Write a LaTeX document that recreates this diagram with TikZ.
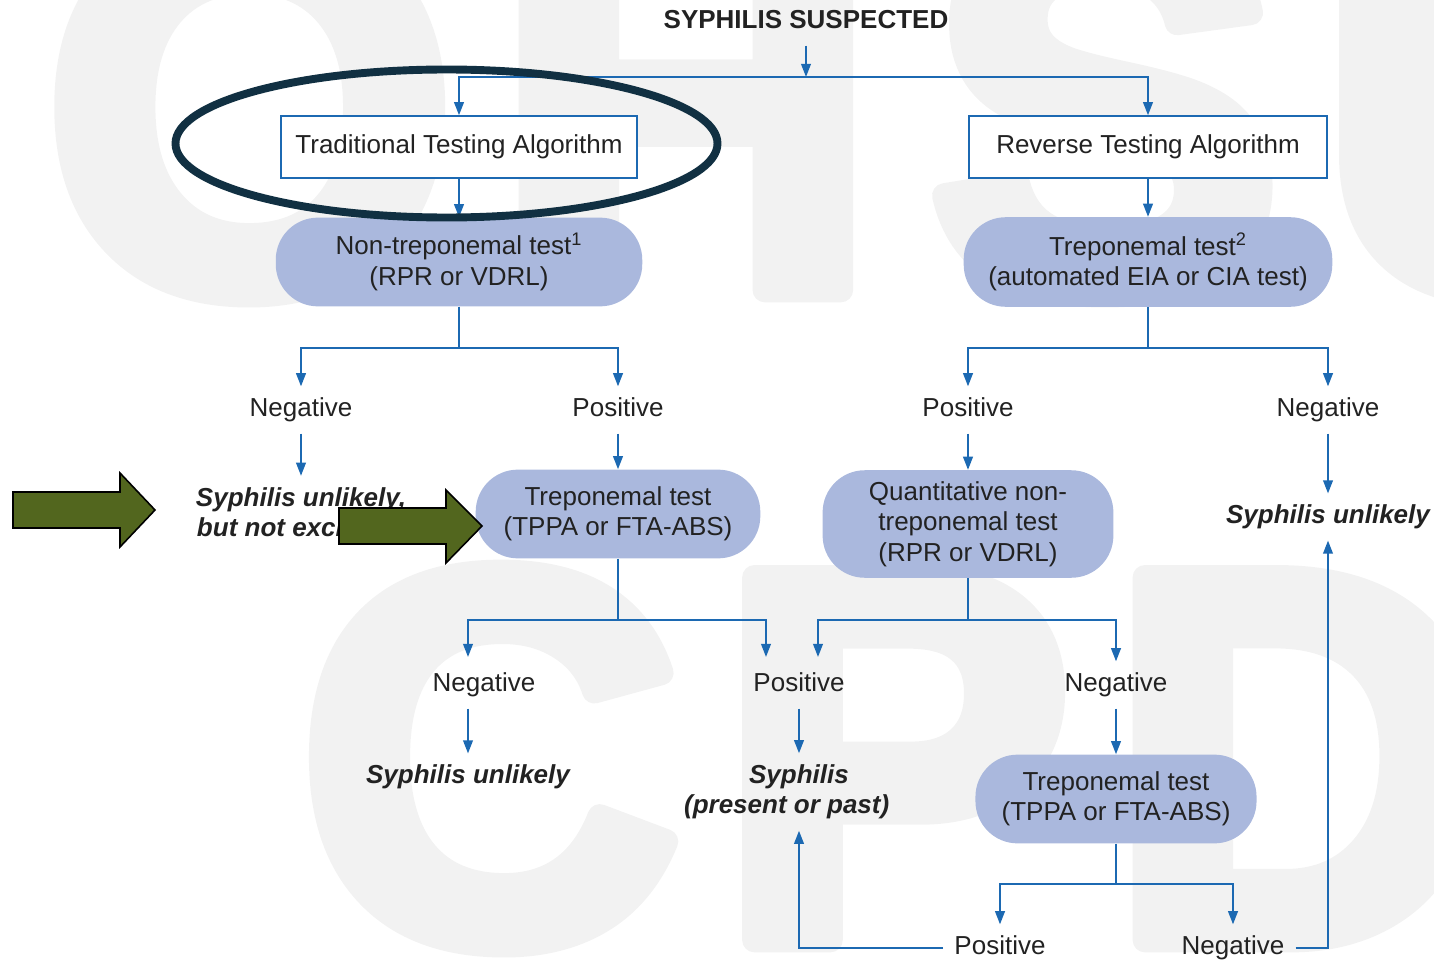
\documentclass[tikz,border=0pt]{standalone}
\usepackage{fontspec}
\setmainfont{Liberation Sans}
\usetikzlibrary{arrows.meta}

\definecolor{flowblue}{RGB}{28,105,178}
\definecolor{pillfill}{RGB}{170,184,221}
\definecolor{inktext}{RGB}{34,34,34}
\definecolor{ringnavy}{RGB}{17,48,66}
\definecolor{olivefill}{RGB}{82,102,30}
\definecolor{wmgray}{RGB}{242,242,242}

% heavy letters: fill and stroke the glyph outlines
\newcommand{\heavyglyph}[1]{\special{pdf:literal direct 2 Tr 14 w 1 j}#1\special{pdf:literal direct 0 Tr 1 w 0 j}}

\begin{document}
\begin{tikzpicture}[x=0.02cm, y=-0.02cm,
  every node/.style={font=\fontsize{14.8}{17.3}\selectfont, text=inktext},
  pill/.style={fill=pillfill, rounded corners=24pt, align=center, inner sep=0pt},
  algobox/.style={draw=flowblue, line width=1.1pt, fill=white, inner sep=0pt,
                  minimum height=35pt},
  lbl/.style={inner sep=0pt, outer sep=6.5pt, text height=10.7pt, text depth=3.2pt},
  verdict/.style={inner sep=0pt, outer sep=6.5pt, align=center,
                  font=\fontsize{14.8}{17.3}\selectfont\bfseries\itshape},
  conn/.style={draw=flowblue, line width=1.1pt},
  arr/.style={conn, -{Triangle[length=7.5pt, width=5.5pt]}},
  pointer/.style={fill=olivefill, draw=black, line width=0.9pt, line join=miter},
  wm/.style={text=wmgray, font=\fontsize{300}{300}\selectfont\bfseries,
             inner sep=0pt, anchor=base}
]
\useasboundingbox (0,0) rectangle (1434,963);

% faint background lettering
\begin{scope}
  \clip (0,0) rectangle (1434,963);
  \node[wm] (wmO) at (250,290) {\heavyglyph{O}};
  \node[wm] (wmH) at (686,290) {\heavyglyph{H}};
  \node[wm] (wmS) at (1105,290) {\heavyglyph{S}};
  \node[wm] (wmU) at (1510,290) {\heavyglyph{U}};
  \node[wm] (wmC) at (490,940) {\heavyglyph{C}};
  \node[wm] (wmP) at (895,940) {\heavyglyph{P}};
  \node[wm] (wmD) at (1300,940) {\heavyglyph{D}};
\end{scope}

% title and the two algorithms
\node[lbl, font=\fontsize{14.8}{17.3}\selectfont\bfseries] (title) at (806,22) {SYPHILIS SUSPECTED};
\node[algobox, minimum width=203pt] (trad) at (459,147) {Traditional Testing Algorithm};
\node[algobox, minimum width=204pt] (rev) at (1148,147) {Reverse Testing Algorithm};

% first tests
\node[pill, minimum width=208.6pt, minimum height=50.5pt] (p1) at (459,262)
  {Non-treponemal test\textsuperscript{1}\\(RPR or VDRL)};
\node[pill, minimum width=209.8pt, minimum height=51pt] (p2) at (1148,262)
  {Treponemal test\textsuperscript{2}\\(automated EIA or CIA test)};

% first results
\node[lbl] (neg1) at (301,410) {Negative};
\node[lbl] (pos1) at (618,410) {Positive};
\node[lbl] (pos1r) at (968,410) {Positive};
\node[lbl] (neg1r) at (1328,410) {Negative};

\node[verdict] (unl0) at (301,512) {Syphilis unlikely,\\but not excluded};
\node[pill, minimum width=162pt, minimum height=50.5pt] (p3) at (618,514)
  {Treponemal test\\(TPPA or FTA-ABS)};
\node[pill, minimum width=165.5pt, minimum height=61.2pt] (p4) at (968,524)
  {Quantitative non-\\treponemal test\\(RPR or VDRL)};
\node[verdict] (unlR) at (1328,517) {Syphilis unlikely};

% second results
\node[lbl] (neg2) at (484,685) {Negative};
\node[lbl] (pos2) at (799,685) {Positive};
\node[lbl] (neg3) at (1116,685) {Negative};

\node[verdict] (unl1) at (468,777) {Syphilis unlikely};
\node[verdict] (syph) at (799,792) {Syphilis\\\hspace*{-14pt}(present or past)};
\node[pill, minimum width=160pt, minimum height=50.5pt] (p5) at (1116,799)
  {Treponemal test\\(TPPA or FTA-ABS)};

\node[lbl] (pos3) at (1000,948) {Positive};
\node[lbl] (neg4) at (1233,948) {Negative};

% junctions and arrow ends
\coordinate (j0) at (806,77);
\coordinate (j1) at (459,348);
\coordinate (j2) at (1148,348);
\coordinate (j3) at (618,620);
\coordinate (j4) at (968,620);
\coordinate (j5) at (1116,884);
\coordinate (t1) at (468,657);
\coordinate (t2) at (766,657);
\coordinate (t3) at (818,657);

% connectors
\draw[arr] (title.south) -- (j0);
\draw[arr] (j0) -| (trad.north);
\draw[arr] (j0) -| (rev.north);
\draw[arr] (trad) -- (p1);
\draw[arr] (rev) -- (p2);

\draw[conn] (p1) -- (j1);
\draw[arr] (j1) -| (neg1.north);
\draw[arr] (j1) -| (pos1.north);
\draw[arr] (neg1) -- (unl0);
\draw[arr] (pos1) -- (p3);

\draw[conn] (p2) -- (j2);
\draw[arr] (j2) -| (pos1r.north);
\draw[arr] (j2) -| (neg1r.north);
\draw[arr] (pos1r) -- (p4);
\draw[arr] (neg1r) -- (unlR);

\draw[conn] (p3) -- (j3);
\draw[arr] (j3) -| (t1);
\draw[arr] (j3) -| (t2);
\draw[conn] (p4) -- (j4);
\draw[arr] (j4) -| (t3);
\draw[arr] (j4) -| (neg3.north);

\draw[arr] (neg2.south -| unl1.north) -- (unl1.north);
\draw[arr] (pos2) -- (syph);
\draw[arr] (neg3) -- (p5);

\draw[conn] (p5) -- (j5);
\draw[arr] (j5) -| (pos3.north);
\draw[arr] (j5) -| (neg4.north);
\draw[arr] (pos3.west) -| (syph.south);
\draw[arr] (neg4.east) -| (unlR.south);

% highlight ring around the traditional algorithm
\draw[ringnavy, line width=4.5pt] (446.5,143.5) ellipse [x radius=271, y radius=74];

% pointer arrows
\draw[pointer] (13,492) -- (120,492) -- (120,473) -- (155,510) -- (120,547)
  -- (120,528) -- (13,528) -- cycle;
\draw[pointer] (339,508) -- (446,508) -- (446,490) -- (482,526) -- (446,563)
  -- (446,544) -- (339,544) -- cycle;
\end{tikzpicture}
\end{document}
